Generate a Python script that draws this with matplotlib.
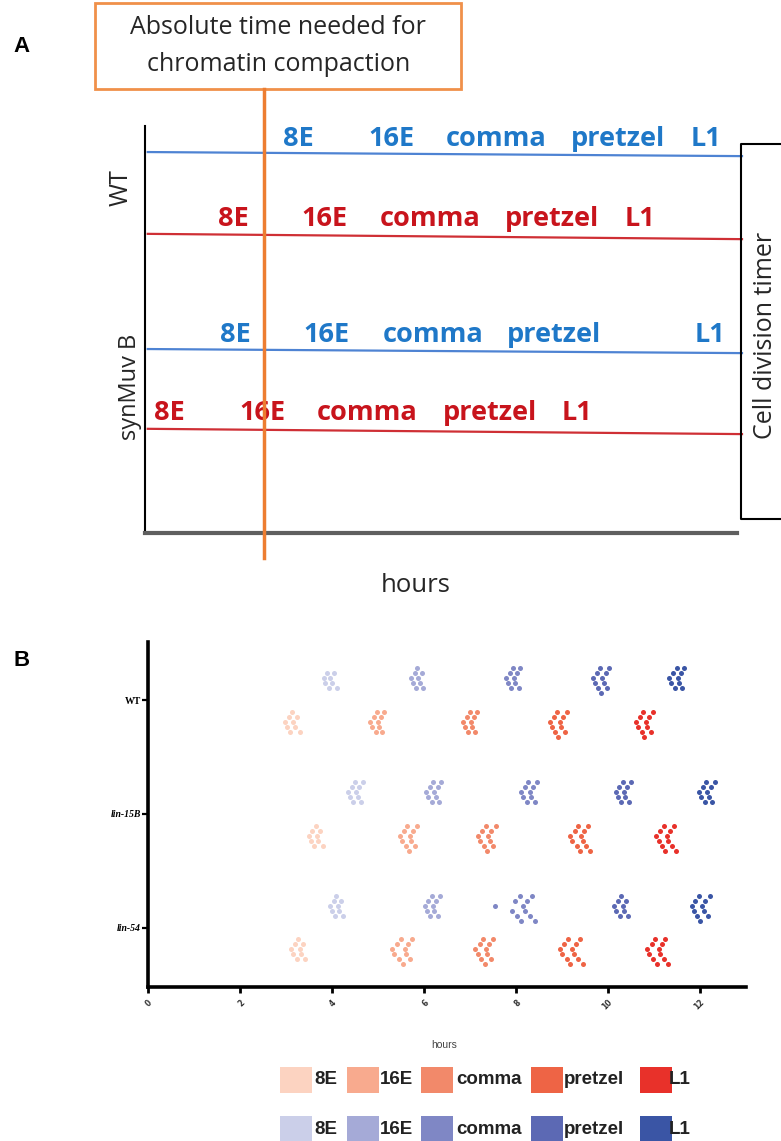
import matplotlib
matplotlib.use("Agg")
import matplotlib.pyplot as plt
from matplotlib.patches import Rectangle
import numpy as np

# ---------------- data ----------------
stages = ["8E", "16E", "comma", "pretzel", "L1"]

# Panel A schematic: stage label positions (hours) for each row
a_rows = ["WT blue", "WT red", "synMuv blue", "synMuv red"]
a_wt_blue = [3.33, 5.36, 7.65, 10.30, 12.22]
a_wt_red = [1.92, 3.90, 6.21, 8.86, 10.78]
a_syn_blue = [1.96, 3.96, 6.27, 8.91, 12.31]
a_syn_red = [0.52, 2.55, 4.83, 7.51, 9.41]
a_compaction_time = 2.59

# Panel B: genotypes and timing of each stage (hours), per embryo
genotypes = ["WT", "lin-15B", "lin-54"]
wt_blue = [
    [3.82, 3.86, 3.90, 3.93, 3.97, 4.00, 4.05, 4.12],
    [5.72, 5.76, 5.80, 5.83, 5.86, 5.88, 5.91, 5.95, 5.99],
    [7.78, 7.83, 7.87, 7.90, 7.93, 7.96, 7.99, 8.02, 8.06, 8.10],
    [9.68, 9.72, 9.76, 9.79, 9.82, 9.85, 9.88, 9.91, 9.95, 9.99, 10.02],
    [11.33, 11.38, 11.42, 11.46, 11.49, 11.52, 11.55, 11.58, 11.62, 11.66],
]
wt_red = [
    [2.98, 3.02, 3.06, 3.10, 3.13, 3.16, 3.20, 3.25, 3.32],
    [4.84, 4.88, 4.92, 4.95, 4.98, 5.00, 5.03, 5.06, 5.10, 5.13],
    [6.85, 6.90, 6.94, 6.97, 7.00, 7.02, 7.05, 7.08, 7.12, 7.15],
    [8.74, 8.79, 8.83, 8.86, 8.89, 8.92, 8.95, 8.98, 9.02, 9.06, 9.10],
    [10.60, 10.65, 10.69, 10.73, 10.76, 10.79, 10.82, 10.85, 10.89, 10.93, 10.97],
]
lin15b_blue = [
    [4.35, 4.39, 4.43, 4.47, 4.50, 4.53, 4.56, 4.60, 4.64, 4.68],
    [6.05, 6.09, 6.13, 6.17, 6.20, 6.23, 6.26, 6.30, 6.34, 6.38],
    [8.12, 8.16, 8.20, 8.24, 8.27, 8.30, 8.33, 8.37, 8.41, 8.45],
    [10.17, 10.21, 10.25, 10.29, 10.32, 10.35, 10.38, 10.42, 10.46, 10.50],
    [11.98, 12.02, 12.06, 12.10, 12.13, 12.16, 12.19, 12.23, 12.27, 12.32],
]
lin15b_red = [
    [3.50, 3.54, 3.58, 3.62, 3.65, 3.68, 3.71, 3.75, 3.80],
    [5.48, 5.53, 5.57, 5.61, 5.64, 5.67, 5.70, 5.73, 5.77, 5.81, 5.86],
    [7.18, 7.23, 7.27, 7.31, 7.34, 7.37, 7.40, 7.43, 7.47, 7.51, 7.56],
    [9.18, 9.23, 9.28, 9.32, 9.36, 9.39, 9.42, 9.45, 9.49, 9.53, 9.57, 9.62],
    [11.05, 11.10, 11.14, 11.18, 11.22, 11.25, 11.28, 11.31, 11.35, 11.39, 11.43, 11.47],
]
lin54_blue = [
    [3.96, 4.00, 4.04, 4.07, 4.10, 4.13, 4.16, 4.20, 4.24],
    [6.02, 6.06, 6.10, 6.14, 6.17, 6.20, 6.23, 6.27, 6.31, 6.35],
    [7.55, 7.92, 7.98, 8.03, 8.08, 8.12, 8.16, 8.20, 8.25, 8.30, 8.36, 8.42],
    [10.14, 10.18, 10.22, 10.26, 10.29, 10.32, 10.35, 10.39, 10.43],
    [11.82, 11.86, 11.90, 11.94, 11.98, 12.01, 12.04, 12.08, 12.12, 12.17, 12.22],
]
lin54_red = [
    [3.12, 3.16, 3.20, 3.24, 3.27, 3.30, 3.33, 3.37, 3.42],
    [5.30, 5.36, 5.41, 5.46, 5.50, 5.54, 5.58, 5.62, 5.66, 5.70, 5.75],
    [7.12, 7.17, 7.21, 7.25, 7.29, 7.32, 7.35, 7.38, 7.42, 7.46, 7.50],
    [8.95, 9.00, 9.05, 9.10, 9.14, 9.18, 9.22, 9.26, 9.30, 9.35, 9.40, 9.45],
    [10.85, 10.90, 10.95, 10.99, 11.03, 11.07, 11.10, 11.13, 11.17, 11.21, 11.25, 11.30],
]
x_ticks = [0, 2, 4, 6, 8, 10, 12]

red_colors = ["#FCD3C1", "#F8AA8E", "#F2896A", "#EE6445", "#E8312A"]
blue_colors = ["#CBCFE9", "#A5AAD7", "#7F87C5", "#5C69B4", "#3A55A5"]

# ---------------- figure ----------------
W, H = 781, 1141
fig = plt.figure(figsize=(W / 100, H / 100), dpi=100)


def fx(x):
    return x / W


def fy(y):
    return 1 - y / H


CAL = ["Open Sans", "DejaVu Sans"]

# ================= Panel A =================
axA = fig.add_axes([fx(145), fy(533), (742 - 145) / W, (533 - 126) / H])
axA.set_xlim(0, 13)
axA.set_ylim(0, 10)
for s in ["top", "right"]:
    axA.spines[s].set_visible(False)
axA.spines["left"].set_color("black")
axA.spines["left"].set_linewidth(1.5)
axA.spines["bottom"].set_color("#5f5f5f")
axA.spines["bottom"].set_linewidth(3)
axA.spines["bottom"].set_bounds(0, 12.89)
axA.set_xticks([])
axA.set_yticks([])

row_y_left = [9.36, 7.35, 4.52, 2.56]
row_y_right = [9.26, 7.22, 4.42, 2.43]
row_text_y = [9.51, 7.54, 4.69, 2.78]
row_line_colors = ["#4E83D3", "#CF2F35", "#4E83D3", "#CF2F35"]
row_text_colors = ["#1F78C8", "#C8141C", "#1F78C8", "#C8141C"]
row_labels = [a_wt_blue, a_wt_red, a_syn_blue, a_syn_red]

for i in range(4):
    axA.plot([0.06, 13], [row_y_left[i], row_y_right[i]], color=row_line_colors[i],
             lw=1.6, clip_on=False, zorder=2)
    for st, xv in zip(stages, row_labels[i]):
        axA.text(xv, row_text_y[i], st, color=row_text_colors[i], fontsize=19.5,
                 fontweight="bold", family=CAL, ha="center", va="baseline", zorder=3)

# compaction line
axA.plot([a_compaction_time, a_compaction_time], [-0.61, 10.91], color="#ED7D31",
         lw=2.5, clip_on=False, zorder=4)
# box
axA.add_patch(Rectangle((-1.09, 10.91), 7.97, 2.11, fill=False, edgecolor="#F0904A",
                        lw=2, clip_on=False))
axA.text(2.9, 12.41, "Absolute time needed for", ha="center", va="center",
         fontsize=18, family=CAL, color="#262626")
axA.text(2.9, 11.50, "chromatin compaction", ha="center", va="center",
         fontsize=18, family=CAL, color="#262626")

fig.text(fx(121), fy(188), "WT", rotation=90, ha="center", va="center",
         fontsize=18, family=CAL, color="#262626")
fig.text(fx(130), fy(387), "synMuv B", rotation=90, ha="center", va="center",
         fontsize=17, family=CAL, color="#262626")
fig.text(fx(416), fy(585), "hours", ha="center", va="center",
         fontsize=18.5, family=CAL, color="#262626")

# Cell division timer bracket
fig.add_artist(plt.Line2D([fx(790), fx(741), fx(741), fx(790)],
                          [fy(144), fy(144), fy(519), fy(519)],
                          color="black", lw=1.5, transform=fig.transFigure))
fig.text(fx(766), fy(335), "Cell division timer", rotation=90, ha="center",
         va="center", fontsize=18, family=CAL, color="#262626")

fig.text(fx(21), fy(47), "A", ha="center", va="center", fontsize=16,
         fontweight="bold", family=["Liberation Sans", "DejaVu Sans"])
fig.text(fx(22), fy(660), "B", ha="center", va="center", fontsize=16,
         fontweight="bold", family=["Liberation Sans", "DejaVu Sans"])

# ================= Panel B =================
bl, br, bt, bb = 147.7, 746, 642, 987
axB = fig.add_axes([fx(bl), fy(bb), (br - bl) / W, (bb - bt) / H])
xmax = 13.0
ymin, ymax = -0.51, 2.52
axB.set_xlim(0, xmax)
axB.set_ylim(ymax, ymin)
for s in ["top", "right"]:
    axB.spines[s].set_visible(False)
for s in ["left", "bottom"]:
    axB.spines[s].set_linewidth(2.6)
    axB.spines[s].set_color("black")

px_per_y = (bb - bt) / (ymax - ymin)


def chevron(vals, dy_px=5.0):
    """Prism-like scatter layout: the sorted values are split into an
    inner and an outer '<' (smallest of each in the middle row, larger
    values alternately above / below)."""
    vals = sorted(vals)
    half = (len(vals) + 1) // 2
    offs = []
    for grp in (vals[:half], vals[half:]):
        for i in range(len(grp)):
            k = (i + 1) // 2
            sign = 1 if i % 2 == 1 else -1
            offs.append(sign * k * dy_px / px_per_y)
    return np.array(vals), np.array(offs)


series = [(wt_blue, wt_red), (lin15b_blue, lin15b_red), (lin54_blue, lin54_red)]
for gi, (blue, red) in enumerate(series):
    for si in range(5):
        xv, yo = chevron(blue[si])
        axB.scatter(xv, gi - 0.19 + yo, s=13, color=blue_colors[si], linewidths=0, zorder=3)
        xv, yo = chevron(red[si])
        axB.scatter(xv, gi + 0.19 + yo, s=13, color=red_colors[si], linewidths=0, zorder=3)

axB.set_xticks(x_ticks)
axB.set_xticklabels([str(t) for t in x_ticks], rotation=45, ha="right",
                    rotation_mode="anchor", fontsize=5.5, color="#333333",
                    fontweight="bold")
axB.tick_params(axis="x", length=4, width=2, pad=4)
axB.set_yticks(range(len(genotypes)))
axB.set_yticklabels(genotypes, fontsize=7, fontweight="bold",
                    family=["Liberation Serif", "DejaVu Serif"])
for lab in axB.get_yticklabels()[1:]:
    lab.set_style("italic")
axB.tick_params(axis="y", length=4, width=1.6, pad=1)

fig.text(fx(444), fy(1045), "hours", ha="center", va="center", fontsize=7.5,
         color="#444444", family=["Liberation Sans", "DejaVu Sans"])

# legend
leg_box_x = [280, 347, 421, 531, 640]
leg_text_x = [314, 380, 456, 564, 669]
leg_row_y = [1067, 1116]
box_w, box_h = 32, 26
for row, cols in zip(leg_row_y, [red_colors, blue_colors]):
    for bx, tx, col, st in zip(leg_box_x, leg_text_x, cols, stages):
        fig.add_artist(Rectangle((fx(bx), fy(row + box_h)), box_w / W, box_h / H,
                                 facecolor=col, edgecolor="none",
                                 transform=fig.transFigure))
        fig.text(fx(tx), fy(row + box_h / 2), st, ha="left", va="center",
                 fontsize=13.5, fontweight="bold", color="#222222",
                 family=["Liberation Sans", "DejaVu Sans"])

fig.savefig("out.png", dpi=100)
